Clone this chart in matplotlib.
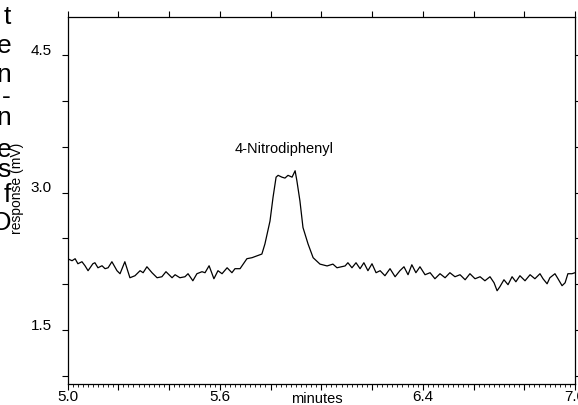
import matplotlib
matplotlib.use("Agg")
import matplotlib.pyplot as plt
import matplotlib.transforms as mtransforms
from matplotlib.ticker import MultipleLocator

plt.rcParams['font.family'] = ['Liberation Sans', 'DejaVu Sans']

# retention time (minutes) and detector response (mV)
times = [5.000, 5.018, 5.030, 5.041, 5.057, 5.069, 5.081, 5.100, 5.108, 5.120,
         5.136, 5.148, 5.160, 5.175, 5.195, 5.207, 5.226, 5.246, 5.266, 5.286,
         5.298, 5.313, 5.333, 5.353, 5.372, 5.388, 5.412, 5.424, 5.443, 5.463,
         5.475, 5.494, 5.510, 5.530, 5.542, 5.558, 5.577, 5.593, 5.609, 5.629,
         5.648, 5.660, 5.680, 5.707, 5.727, 5.766, 5.778, 5.798, 5.810, 5.822,
         5.830, 5.845, 5.857, 5.869, 5.885, 5.897, 5.904, 5.916, 5.928, 5.948,
         5.968, 5.995, 6.023, 6.046, 6.062, 6.094, 6.105, 6.121, 6.137, 6.153,
         6.168, 6.184, 6.200, 6.216, 6.232, 6.251, 6.271, 6.291, 6.310, 6.326,
         6.342, 6.357, 6.373, 6.389, 6.409, 6.429, 6.448, 6.468, 6.488, 6.507,
         6.527, 6.547, 6.567, 6.586, 6.606, 6.626, 6.645, 6.665, 6.681, 6.693,
         6.704, 6.720, 6.736, 6.752, 6.767, 6.783, 6.803, 6.823, 6.842, 6.862,
         6.874, 6.890, 6.901, 6.921, 6.933, 6.949, 6.961, 6.972, 6.988, 7.000]
response = [2.279, 2.257, 2.279, 2.224, 2.246, 2.202, 2.148, 2.224, 2.235, 2.180,
            2.202, 2.170, 2.180, 2.246, 2.148, 2.115, 2.246, 2.071, 2.093, 2.148,
            2.126, 2.191, 2.126, 2.071, 2.082, 2.137, 2.071, 2.104, 2.071, 2.082,
            2.115, 2.038, 2.115, 2.137, 2.126, 2.202, 2.060, 2.148, 2.115, 2.180,
            2.126, 2.170, 2.170, 2.279, 2.290, 2.330, 2.440, 2.690, 2.950, 3.170,
            3.190, 3.170, 3.160, 3.190, 3.170, 3.240, 3.130, 2.910, 2.620, 2.440,
            2.290, 2.220, 2.200, 2.220, 2.180, 2.200, 2.235, 2.180, 2.235, 2.170,
            2.235, 2.148, 2.224, 2.126, 2.148, 2.093, 2.170, 2.082, 2.148, 2.191,
            2.104, 2.213, 2.126, 2.191, 2.104, 2.126, 2.060, 2.115, 2.071, 2.126,
            2.082, 2.104, 2.049, 2.115, 2.060, 2.082, 2.038, 2.082, 2.016, 1.929,
            1.973, 2.049, 1.995, 2.082, 2.027, 2.093, 2.038, 2.104, 2.060, 2.115,
            2.060, 2.005, 2.071, 2.115, 2.060, 1.984, 2.016, 2.115, 2.115, 2.126]

x_major = [5.0, 5.2, 5.4, 5.6, 5.8, 6.0, 6.2, 6.4, 6.6, 6.8, 7.0]
x_labels = ['5.0', '', '', '5.6', '', '', '', '6.4', '', '', '7.0']
y_major = [1.0, 1.5, 2.0, 2.5, 3.0, 3.5, 4.0, 4.5]
y_labels = ['', '1.5', '', '', '3.0', '', '', '4.5']
peak_name = '4-Nitrodiphenyl'
peak_pos = (5.855, 3.40)
side_chars = ['t', 'e', 'n', '-', 'n', 'e', 's', 'f', 'O']
side_y_px = [17, 46, 75, 97, 118, 150, 170, 195, 223]

W, H = 578, 405
fig = plt.figure(figsize=(W / 100, H / 100), dpi=100)
ax = fig.add_axes([67.5 / W, (H - 384) / H, (575 - 67.5) / W, (384 - 17) / H])

ax.plot(times, response, color='black', lw=0.9)
ax.set_xlim(5.0, 7.0)
ax.set_ylim(0.91, 4.92)

ax.set_xticks(x_major)
ax.set_xticklabels(x_labels)
ax.xaxis.set_minor_locator(MultipleLocator(0.02))
ax.set_yticks(y_major)
ax.set_yticklabels(y_labels)

ax.tick_params(axis='x', which='major', direction='out', length=4.5, width=0.8,
               labelsize=11, pad=0, top=True)
ax.tick_params(axis='x', which='minor', direction='out', length=2, width=0.6,
               top=False, bottom=True)
ax.tick_params(axis='y', which='major', direction='out', length=4.5, width=0.8,
               labelsize=11, pad=7, right=True)
for sp in ax.spines.values():
    sp.set_linewidth(0.9)

# y tick labels sit a bit above their ticks
offset = mtransforms.ScaledTranslation(0, 6 / 100, fig.dpi_scale_trans)
for lab in ax.get_yticklabels():
    lab.set_transform(lab.get_transform() + offset)

ax.text(peak_pos[0], peak_pos[1], peak_name, ha='center', va='bottom', fontsize=10.5)
fig.text(317 / W, 1 - 399 / H, 'minutes', ha='center', va='center', fontsize=10.5)
fig.text(17 / W, 1 - 188 / H, 'response (mV)', ha='center', va='center',
         rotation=90, fontsize=10)

for ch, yp in zip(side_chars, side_y_px):
    fig.text(11 / W, 1 - yp / H, ch, ha='right', va='center', fontsize=19)

fig.savefig('out.png', dpi=100)
